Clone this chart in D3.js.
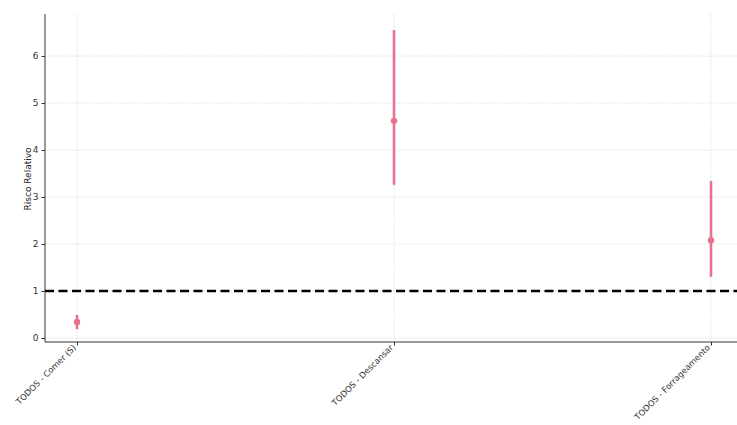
<!DOCTYPE html>
<html><head><meta charset="utf-8">
<script src="https://cdn.jsdelivr.net/npm/d3@7"></script>
<style>body{margin:0;background:#fff}svg{display:block}text{font-family:"DejaVu Sans",sans-serif}</style>
</head><body>
<svg id="c" width="737" height="425"></svg>
<script>
const categories = ["TODOS - Comer (S)", "TODOS - Descansar", "TODOS - Forrageamento"];
const rr = [0.34, 4.62, 2.08];
const lower = [0.19, 3.26, 1.30];
const upper = [0.49, 6.55, 3.34];
const yTicks = [0, 1, 2, 3, 4, 5, 6];

(function () {
const svg = d3.select("#c");
const pL = 45, pR = 737, pT = 14, pB = 342;
const x = d3.scaleLinear().domain([-0.101, 2.082]).range([pL, pR]);
const y = d3.scaleLinear().domain([-0.085, 6.894]).range([pB, pT]);
const col = "#e8718d";

// grid
svg.append("g").selectAll("line").data(yTicks).join("line")
  .attr("x1", pL).attr("x2", pR).attr("y1", d => y(d)).attr("y2", d => y(d))
  .attr("stroke", "#d8d8d8").attr("stroke-width", 0.8).attr("stroke-dasharray", "1.5,1.5");
svg.append("g").selectAll("line").data(categories).join("line")
  .attr("y1", pT).attr("y2", pB).attr("x1", (d, i) => x(i)).attr("x2", (d, i) => x(i))
  .attr("stroke", "#d8d8d8").attr("stroke-width", 0.8).attr("stroke-dasharray", "1.5,1.5");

// reference line
svg.append("line").attr("x1", pL).attr("x2", pR).attr("y1", y(1)).attr("y2", y(1))
  .attr("stroke", "#000").attr("stroke-width", 2.5).attr("stroke-dasharray", "9,4.5");

// axes
const yAxis = d3.axisLeft(y).tickValues(yTicks).tickSize(3.5).tickPadding(3).tickFormat(d3.format("d"));
const gy = svg.append("g").attr("transform", `translate(${pL},0)`).call(yAxis);
gy.select(".domain").attr("d", `M0,${pT}V${pB}`).attr("stroke", "#333").attr("stroke-width", 1);
gy.selectAll(".tick line").attr("stroke", "#333");
gy.selectAll("text").attr("font-size", 9).attr("fill", "#333").attr("font-family", "DejaVu Sans");

const xAxis = d3.axisBottom(x).tickValues([0, 1, 2]).tickSize(3.5).tickFormat(i => categories[i]);
const gx = svg.append("g").attr("transform", `translate(0,${pB})`).call(xAxis);
gx.select(".domain").attr("d", `M${pL},0H${pR}`).attr("stroke", "#333").attr("stroke-width", 1);
gx.selectAll(".tick line").attr("stroke", "#333");
gx.selectAll("text").attr("font-size", 8.4).attr("fill", "#333").attr("font-family", "DejaVu Sans")
  .attr("text-anchor", "end").attr("dy", "0.35em")
  .attr("transform", "translate(-3,4) rotate(-45)").attr("y", 0).attr("x", 0);

// y label
svg.append("text").attr("transform", `translate(30.5,${(pT + pB) / 2 + 1}) rotate(-90)`)
  .attr("text-anchor", "middle").attr("font-size", 9).attr("fill", "#222").text("Risco Relativo");

// error bars
svg.append("g").selectAll("line").data(categories).join("line")
  .attr("x1", (d, i) => x(i)).attr("x2", (d, i) => x(i))
  .attr("y1", (d, i) => y(lower[i])).attr("y2", (d, i) => y(upper[i]))
  .attr("stroke", col).attr("stroke-width", 2.6);
svg.append("g").selectAll("circle").data(categories).join("circle")
  .attr("cx", (d, i) => x(i)).attr("cy", (d, i) => y(rr[i])).attr("r", 3.2).attr("fill", col);
})();
</script>
</body></html>
